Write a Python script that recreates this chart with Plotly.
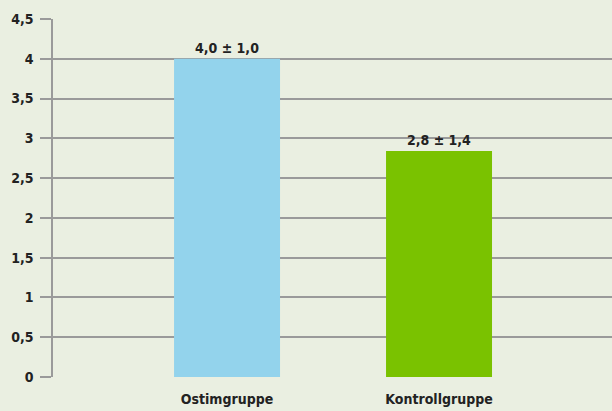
import plotly.graph_objects as go

categories = ["Ostimgruppe", "Kontrollgruppe"]
values = [4.0, 2.84]
value_labels = ["4,0 ± 1,0", "2,8 ± 1,4"]
bar_colors = ["#93d3ec", "#7ac200"]
y_ticks = [0, 0.5, 1, 1.5, 2, 2.5, 3, 3.5, 4, 4.5]

FONT = "Liberation Sans Narrow, DejaVu Sans Condensed, Arial Narrow, sans-serif"
BG = "#eaefe1"

fig = go.Figure(go.Bar(
    x=[0, 1],
    y=values,
    width=0.5,
    marker=dict(color=bar_colors, line=dict(width=0)),
    text=value_labels,
    textposition="outside",
    textfont=dict(family=FONT, size=14, color="#222222", weight="bold"),
    cliponaxis=False,
    hoverinfo="skip",
))

fig.update_layout(
    width=612, height=411,
    margin=dict(l=53, r=0, t=19, b=34, autoexpand=False),
    paper_bgcolor=BG,
    plot_bgcolor=BG,
    separators=", ",
    showlegend=False,
    font=dict(family=FONT, size=13, color="#222222"),
    xaxis=dict(
        range=[-0.821, 1.816],
        tickmode="array", tickvals=[0, 1], ticktext=categories,
        showgrid=False, zeroline=False, showline=False, ticks="",
        automargin=False, ticklabelstandoff=12,
        tickfont=dict(family=FONT, size=14, color="#222222", weight="bold"),
    ),
    yaxis=dict(
        range=[0, 4.5],
        tickmode="array", tickvals=y_ticks,
        showgrid=True, gridcolor="#9a9a9a", gridwidth=1.5,
        zeroline=False,
        showline=True, linecolor="#9a9a9a", linewidth=1.5,
        ticks="outside", ticklen=11, tickcolor="#9a9a9a", tickwidth=1.5,
        automargin=False, ticklabelstandoff=4,
        tickfont=dict(family=FONT, size=14, color="#222222", weight="bold"),
    ),
)

fig.write_html(
    "out.html",
    config={"displayModeBar": False},
    post_script="document.body.style.margin='0';document.body.style.background='%s';" % BG,
)
